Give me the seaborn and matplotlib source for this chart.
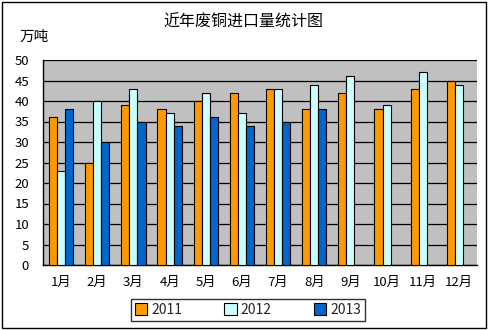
import matplotlib
matplotlib.use("Agg")
import matplotlib.pyplot as plt
import seaborn as sns
import pandas as pd
import numpy as np
from matplotlib.patches import Patch, Rectangle

months = ["1月", "2月", "3月", "4月", "5月", "6月", "7月", "8月", "9月", "10月", "11月", "12月"]
years = ["2011", "2012", "2013"]
v2011 = [36, 25, 39, 38, 40, 42, 43, 38, 42, 38, 43, 45]
v2012 = [23, 40, 43, 37, 42, 37, 43, 44, 46, 39, 47, 44]
v2013 = [38, 30, 35, 34, 36, 34, 35, 38, np.nan, np.nan, np.nan, np.nan]
yticks = [0, 5, 10, 15, 20, 25, 30, 35, 40, 45, 50]
colors = ["#FF9900", "#CCFFFF", "#0066CC"]

sns.set_theme(style="white")
plt.rcParams['font.family'] = ['Noto Sans CJK SC', 'DejaVu Sans']

rows = []
for y, vals in zip(years, [v2011, v2012, v2013]):
    for m, v in zip(months, vals):
        rows.append({"月": m, "年": y, "值": v})
df = pd.DataFrame(rows)

fig = plt.figure(figsize=(4.88, 3.30), dpi=100)
ax = fig.add_axes([43/488, 1-265/330, 434/488, 205/330])
ax.set_facecolor("#C0C0C0")
sns.barplot(data=df, x="月", y="值", hue="年", order=months, hue_order=years,
            palette=colors, width=0.67, edgecolor="black", linewidth=0.8,
            saturation=1, errorbar=None, ax=ax, legend=False, zorder=3)
ax.set_ylim(0, 50)
ax.set_xlim(-0.5, 11.5)
ax.set_yticks(yticks)
ax.yaxis.grid(True, color="black", linewidth=0.9, zorder=0)
ax.set_axisbelow(True)
ax.set_xlabel("")
ax.set_ylabel("")
for s in ["top", "right"]:
    ax.spines[s].set_visible(False)
ax.spines["left"].set_color("black")
ax.spines["bottom"].set_color("black")
ax.spines["left"].set_linewidth(1)
ax.spines["bottom"].set_linewidth(1)
ax.tick_params(axis="y", length=0, labelsize=9.5, pad=10, colors="black")
ax.tick_params(axis="x", length=0, labelsize=9.5, pad=8, colors="black")
ax.set_xticks(np.arange(-0.5, 12, 1), minor=True)
ax.tick_params(axis="x", which="minor", direction="in", length=4, color="black", width=0.8)

fig.text(243/488, 1-22/330, "近年废铜进口量统计图", ha="center", va="center", fontsize=11.5, color="black")
fig.text(20/488, 1-37/330, "万吨", ha="left", va="center", fontsize=10.5, color="black")

handles = [Patch(facecolor=c, edgecolor="black", linewidth=0.8, label=y) for c, y in zip(colors, years)]
leg = fig.legend(handles=handles, loc="center", bbox_to_anchor=(248/488, 1-310/330), ncol=3,
                 frameon=True, fancybox=False, fontsize=10, handlelength=0.9, handleheight=0.9,
                 handletextpad=0.3, columnspacing=3.0, borderpad=0.3)
leg.get_frame().set_edgecolor("black")
leg.get_frame().set_linewidth(1)
leg.get_frame().set_boxstyle("square", pad=0)

fig.patches.append(Rectangle((2/488, 2/330), 484/488, 326/330, transform=fig.transFigure,
                             fill=False, edgecolor="black", linewidth=1))

fig.savefig("out.png", dpi=100)
